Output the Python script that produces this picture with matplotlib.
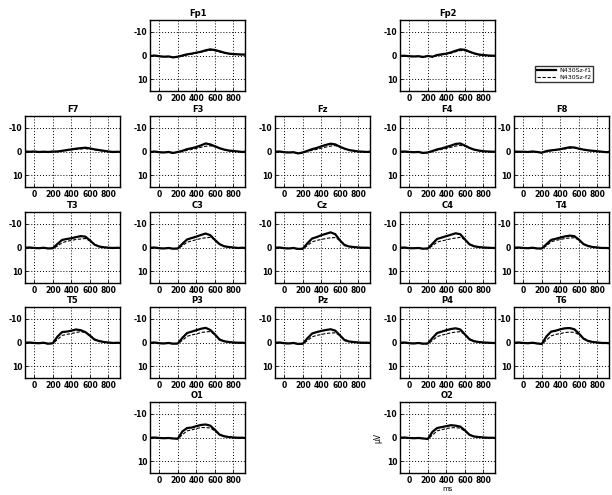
import matplotlib
matplotlib.use("Agg")
import matplotlib.pyplot as plt

times = [-100, -50, 0, 50, 100, 150, 200, 250, 300, 350, 400, 450,
         500, 550, 600, 650, 700, 750, 800, 850, 900, 920]

# channel name -> (row, col)
layout = {
    "Fp1": (0, 1), "Fp2": (0, 3),
    "F7": (1, 0), "F3": (1, 1), "Fz": (1, 2), "F4": (1, 3), "F8": (1, 4),
    "T3": (2, 0), "C3": (2, 1), "Cz": (2, 2), "C4": (2, 3), "T4": (2, 4),
    "T5": (3, 0), "P3": (3, 1), "Pz": (3, 2), "P4": (3, 3), "T6": (3, 4),
    "O1": (4, 1), "O2": (4, 3),
}

# condition 1 (solid) amplitudes in microvolts
sz_f1 = {
    "Fp1": [0.2, 0.0, 0.3, 0.5, 0.4, 0.8, 0.5, 0.0, -0.5, -0.8, -1.2, -1.6, -2.2, -2.6, -2.3, -1.8, -1.2, -0.8, -0.6, -0.5, -0.4, -0.4],
    "Fp2": [0.2, 0.1, 0.3, 0.4, 0.3, 0.6, 0.2, 0.5, -0.2, -0.5, -0.8, -1.3, -2.0, -2.6, -2.4, -1.6, -0.9, -0.4, -0.2, 0.0, 0.1, 0.1],
    "F7":  [0.0, 0.1, 0.0, 0.2, 0.1, 0.2, 0.0, 0.0, -0.3, -0.6, -0.9, -1.2, -1.4, -1.6, -1.3, -0.9, -0.6, -0.3, 0.0, 0.2, 0.1, 0.2],
    "F3":  [0.2, 0.0, 0.3, 0.4, 0.2, 0.6, 0.2, -0.3, -1.0, -1.4, -1.9, -2.6, -3.4, -3.0, -2.2, -1.4, -0.8, -0.4, -0.2, 0.0, 0.2, 0.1],
    "Fz":  [0.1, 0.0, 0.3, 0.4, 0.3, 0.8, 0.4, -0.3, -1.0, -1.5, -2.2, -2.8, -3.3, -3.0, -2.0, -1.2, -0.6, -0.3, 0.0, 0.1, 0.2, 0.1],
    "F4":  [0.1, 0.0, 0.2, 0.3, 0.2, 0.6, 0.4, -0.2, -0.9, -1.3, -1.9, -2.5, -3.2, -3.4, -2.5, -1.5, -0.8, -0.4, -0.1, 0.0, 0.1, 0.1],
    "F8":  [0.0, 0.1, 0.1, 0.2, 0.0, 0.2, 0.5, -0.2, -0.5, -0.7, -1.0, -1.4, -1.8, -1.7, -1.2, -0.8, -0.5, -0.3, -0.1, 0.1, 0.3, 0.2],
    "T3":  [0.1, 0.0, 0.2, 0.3, 0.1, 0.4, 0.3, -1.5, -3.2, -3.6, -3.9, -4.4, -4.8, -4.6, -3.0, -1.2, -0.4, -0.1, 0.1, 0.2, 0.1, 0.2],
    "C3":  [0.1, 0.0, 0.3, 0.4, 0.2, 0.5, 0.4, -1.6, -3.4, -4.0, -4.6, -5.3, -5.9, -5.2, -3.2, -1.4, -0.5, -0.2, 0.0, 0.2, 0.1, 0.2],
    "Cz":  [0.1, 0.0, 0.3, 0.4, 0.2, 0.6, 0.5, -1.8, -3.8, -4.4, -5.2, -5.8, -6.4, -5.6, -3.0, -1.0, -0.4, -0.2, 0.0, 0.1, 0.1, 0.2],
    "C4":  [0.1, 0.0, 0.3, 0.3, 0.2, 0.5, 0.4, -1.6, -3.6, -4.2, -4.8, -5.4, -6.0, -5.6, -3.4, -1.3, -0.5, -0.2, 0.0, 0.1, 0.2, 0.2],
    "T4":  [0.1, 0.0, 0.2, 0.3, 0.1, 0.4, 0.4, -1.4, -3.2, -3.7, -4.2, -4.7, -5.0, -4.8, -3.3, -1.4, -0.6, -0.2, 0.0, 0.2, 0.2, 0.3],
    "T5":  [0.1, 0.0, 0.2, 0.3, 0.1, 0.5, 0.3, -2.5, -4.4, -4.6, -5.0, -5.5, -5.2, -4.4, -2.9, -1.2, -0.6, -0.2, 0.0, 0.2, 0.1, 0.2],
    "P3":  [0.1, 0.0, 0.3, 0.4, 0.2, 0.5, 0.4, -2.0, -4.0, -4.6, -5.2, -5.8, -6.2, -5.3, -3.4, -1.2, -0.5, -0.2, 0.0, 0.1, 0.1, 0.2],
    "Pz":  [0.1, 0.0, 0.3, 0.4, 0.2, 0.6, 0.5, -1.8, -3.8, -4.4, -4.9, -5.3, -5.6, -5.0, -3.0, -1.0, -0.4, -0.2, 0.0, 0.1, 0.1, 0.2],
    "P4":  [0.1, 0.0, 0.3, 0.4, 0.2, 0.5, 0.4, -1.9, -4.0, -4.6, -5.2, -5.7, -6.0, -5.5, -3.4, -1.3, -0.5, -0.2, 0.0, 0.1, 0.2, 0.2],
    "T6":  [0.1, 0.0, 0.2, 0.3, 0.1, 0.4, 0.6, -2.6, -4.6, -5.0, -5.6, -6.0, -6.1, -5.6, -3.8, -1.6, -0.6, -0.2, 0.0, 0.2, 0.2, 0.3],
    "O1":  [0.1, 0.0, 0.2, 0.3, 0.2, 0.4, 0.5, -2.6, -4.0, -4.2, -4.8, -5.3, -5.5, -5.0, -3.2, -1.2, -0.5, -0.2, 0.0, 0.1, 0.1, 0.2],
    "O2":  [0.1, 0.0, 0.2, 0.3, 0.2, 0.4, 0.6, -2.4, -4.0, -4.4, -4.8, -5.2, -5.0, -4.6, -3.0, -1.1, -0.4, -0.2, 0.0, 0.1, 0.1, 0.2],
}

# condition 2 (dashed) amplitudes in microvolts
sz_f2 = {
    "Fp1": [0.3, 0.1, 0.4, 0.6, 0.5, 0.9, 0.6, 0.2, -0.3, -0.6, -1.0, -1.4, -1.9, -2.2, -2.0, -1.5, -1.0, -0.7, -0.5, -0.4, -0.3, -0.3],
    "Fp2": [0.3, 0.2, 0.4, 0.5, 0.4, 0.7, 0.3, 0.6, 0.0, -0.3, -0.6, -1.0, -1.6, -2.1, -2.0, -1.4, -0.8, -0.3, -0.1, 0.1, 0.2, 0.2],
    "F7":  [0.1, 0.2, 0.1, 0.3, 0.2, 0.3, 0.1, 0.1, -0.2, -0.4, -0.7, -0.9, -1.1, -1.2, -1.0, -0.7, -0.4, -0.2, 0.1, 0.3, 0.2, 0.3],
    "F3":  [0.3, 0.1, 0.4, 0.5, 0.3, 0.7, 0.3, 0.0, -0.5, -0.9, -1.3, -1.8, -2.2, -2.4, -2.0, -1.3, -0.7, -0.3, -0.1, 0.1, 0.3, 0.2],
    "Fz":  [0.2, 0.1, 0.4, 0.5, 0.4, 0.9, 0.5, 0.0, -0.5, -0.9, -1.4, -1.9, -2.3, -2.5, -1.9, -1.1, -0.5, -0.2, 0.1, 0.2, 0.3, 0.2],
    "F4":  [0.2, 0.1, 0.3, 0.4, 0.3, 0.7, 0.5, 0.0, -0.5, -0.9, -1.3, -1.8, -2.3, -2.6, -2.2, -1.4, -0.7, -0.3, 0.0, 0.1, 0.2, 0.2],
    "F8":  [0.1, 0.2, 0.2, 0.3, 0.1, 0.3, 0.6, 0.0, -0.3, -0.5, -0.8, -1.1, -1.4, -1.5, -1.1, -0.7, -0.4, -0.2, 0.0, 0.2, 0.4, 0.3],
    "T3":  [0.2, 0.1, 0.3, 0.4, 0.2, 0.5, 0.4, -0.6, -2.0, -2.6, -3.0, -3.4, -3.6, -3.8, -2.8, -1.3, -0.5, -0.1, 0.1, 0.3, 0.2, 0.3],
    "C3":  [0.2, 0.1, 0.4, 0.5, 0.3, 0.6, 0.5, -0.8, -2.2, -2.8, -3.3, -3.8, -4.1, -4.3, -3.2, -1.5, -0.6, -0.2, 0.1, 0.3, 0.2, 0.3],
    "Cz":  [0.2, 0.1, 0.4, 0.5, 0.3, 0.7, 0.6, -0.8, -2.4, -3.0, -3.4, -3.8, -4.1, -4.2, -3.0, -1.2, -0.5, -0.2, 0.1, 0.2, 0.2, 0.3],
    "C4":  [0.2, 0.1, 0.4, 0.4, 0.3, 0.6, 0.5, -0.7, -2.3, -2.8, -3.2, -3.7, -4.0, -4.3, -3.3, -1.5, -0.6, -0.2, 0.1, 0.2, 0.3, 0.3],
    "T4":  [0.2, 0.1, 0.3, 0.4, 0.2, 0.5, 0.5, -0.7, -2.4, -3.0, -3.4, -3.8, -4.0, -4.1, -3.2, -1.6, -0.7, -0.2, 0.1, 0.3, 0.3, 0.4],
    "T5":  [0.2, 0.1, 0.3, 0.4, 0.2, 0.6, 0.4, -1.2, -3.0, -3.4, -3.8, -4.2, -4.6, -4.2, -3.0, -1.5, -0.7, -0.2, 0.1, 0.3, 0.2, 0.3],
    "P3":  [0.2, 0.1, 0.4, 0.5, 0.3, 0.6, 0.5, -0.9, -2.6, -3.2, -3.6, -4.2, -4.5, -4.6, -3.4, -1.5, -0.6, -0.2, 0.1, 0.2, 0.2, 0.3],
    "Pz":  [0.2, 0.1, 0.4, 0.5, 0.3, 0.7, 0.6, -0.8, -2.4, -3.0, -3.4, -3.8, -4.0, -4.1, -3.0, -1.3, -0.5, -0.2, 0.1, 0.2, 0.2, 0.3],
    "P4":  [0.2, 0.1, 0.4, 0.5, 0.3, 0.6, 0.5, -0.8, -2.5, -3.1, -3.6, -4.1, -4.4, -4.6, -3.5, -1.6, -0.6, -0.2, 0.1, 0.2, 0.3, 0.3],
    "T6":  [0.2, 0.1, 0.3, 0.4, 0.2, 0.5, 0.6, -1.0, -2.8, -3.4, -3.8, -4.2, -4.4, -4.3, -3.3, -1.8, -0.8, -0.3, 0.1, 0.3, 0.3, 0.4],
    "O1":  [0.2, 0.1, 0.3, 0.4, 0.3, 0.5, 0.6, -1.2, -2.8, -3.2, -3.8, -4.2, -4.2, -4.0, -2.8, -1.3, -0.6, -0.2, 0.1, 0.2, 0.2, 0.3],
    "O2":  [0.2, 0.1, 0.3, 0.4, 0.3, 0.5, 0.6, -1.0, -2.8, -3.3, -3.8, -4.1, -4.2, -3.9, -2.7, -1.2, -0.5, -0.2, 0.1, 0.2, 0.2, 0.3],
}

legend_labels = ["N430Sz-f1", "N430Sz-f2"]
xticks = [0, 200, 400, 600, 800]
yticks = [-10, 0, 10]

W, H = 612, 495
fig = plt.figure(figsize=(W / 100, H / 100), dpi=100)

col_left = [25, 150, 275, 400, 514]
row_top = [20, 116, 212, 307, 402]
aw, ah = 95, 71

line_handles = None
for name, (r, c) in layout.items():
    left = col_left[c] / W
    bottom = 1 - (row_top[r] + ah) / H
    ax = fig.add_axes([left, bottom, aw / W, ah / H])
    h1, = ax.plot(times, sz_f1[name], color="black", lw=1.6, solid_joinstyle="round")
    h2, = ax.plot(times, sz_f2[name], color="black", lw=0.8, ls=(0, (3, 1.5)))
    line_handles = (h1, h2)
    ax.set_xlim(-100, 924)
    ax.set_ylim(15, -15)
    ax.set_xticks(xticks)
    ax.set_yticks(yticks)
    ax.set_xticklabels([str(t) for t in xticks], fontsize=5.5, fontweight="bold")
    ax.set_yticklabels([str(t) for t in yticks], fontsize=5.5, fontweight="bold")
    ax.tick_params(length=2, width=0.6, direction="in", pad=2)
    ax.grid(True, color="black", ls=(0, (1, 2)), lw=0.7)
    for s in ax.spines.values():
        s.set_linewidth(1.0)
    ax.set_title(name, fontsize=6, fontweight="bold", pad=3)
    if name == "O2":
        ax.set_ylabel("\u03bcV", fontsize=5.5, labelpad=1)
        ax.set_xlabel("ms", fontsize=5, labelpad=1)

fig.legend(line_handles, legend_labels, loc="upper left",
           bbox_to_anchor=(535 / W, 1 - 66 / H), fontsize=4.5,
           frameon=True, fancybox=False, edgecolor="black",
           handlelength=3, borderpad=0.3, labelspacing=0.2,
           handletextpad=0.6, borderaxespad=0)

fig.savefig("out.png", dpi=100)
